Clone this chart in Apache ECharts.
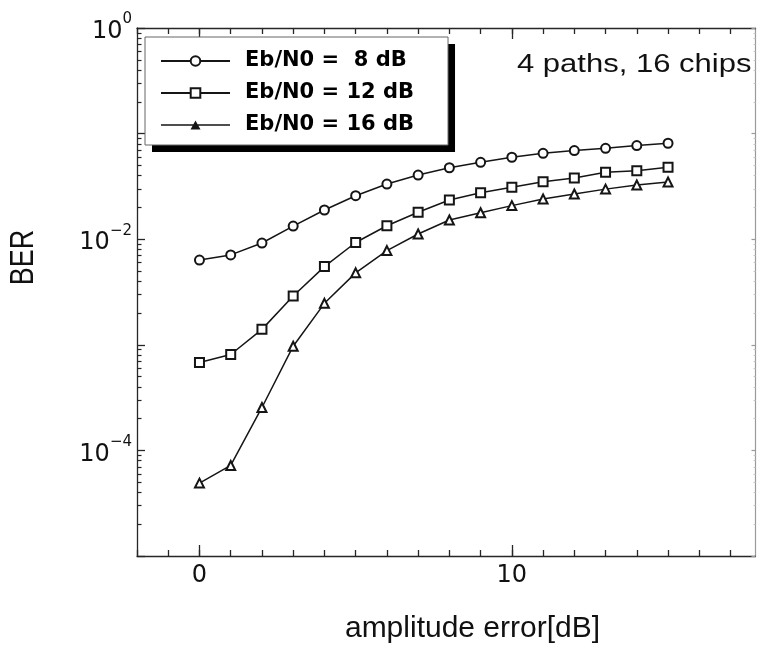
<!DOCTYPE html>
<html>
<head>
<meta charset="utf-8">
<script src="https://cdn.jsdelivr.net/npm/echarts@6/dist/echarts.min.js"></script>
<style>
  html, body { margin: 0; padding: 0; background: #fff; }
  #chart { width: 757px; height: 646px; }
</style>
</head>
<body>
<div id="chart"></div>
<script>
// Amplitude error (dB) at which BER was evaluated
const amplitudeError = [0, 1, 2, 3, 4, 5, 6, 7, 8, 9, 10, 11, 12, 13, 14, 15];

// Bit error rate for each Eb/N0
const ber8dB  = [6.35e-3, 7.1e-3, 9.2e-3, 1.33e-2, 1.89e-2, 2.58e-2, 3.33e-2, 4.05e-2,
                 4.75e-2, 5.35e-2, 5.97e-2, 6.5e-2, 6.9e-2, 7.25e-2, 7.7e-2, 8.1e-2];
const ber12dB = [6.8e-4, 8.1e-4, 1.4e-3, 2.9e-3, 5.5e-3, 9.3e-3, 1.34e-2, 1.8e-2,
                 2.35e-2, 2.75e-2, 3.1e-2, 3.5e-2, 3.8e-2, 4.3e-2, 4.45e-2, 4.8e-2];
const ber16dB = [4.9e-5, 7.2e-5, 2.55e-4, 9.7e-4, 2.47e-3, 4.8e-3, 7.8e-3, 1.12e-2,
                 1.52e-2, 1.78e-2, 2.08e-2, 2.4e-2, 2.68e-2, 2.98e-2, 3.26e-2, 3.48e-2];

const seriesNames = ['Eb/N0 =  8 dB', 'Eb/N0 = 12 dB', 'Eb/N0 = 16 dB'];
const seriesSymbols = ['emptyCircle', 'emptyRect', 'emptyTriangle'];
const seriesValues = [ber8dB, ber12dB, ber16dB];

// Axis ranges and labelled ticks
const xRange = [-2, 17.8];
const xLabelTicks = [0, 10];
const yExpRange = [-5, 0];
const yLabelExponents = [0, -2, -4];

// Tick positions: every dB on x, 2..9 within each decade on y (log10 space)
const xMinorTicks = [];
for (let v = Math.ceil(xRange[0]); v <= Math.floor(xRange[1]); v++) xMinorTicks.push(v);
const yMajorLog = [];
const yMinorLog = [];
for (let e = yExpRange[0]; e <= yExpRange[1]; e++) {
  yMajorLog.push(e);
  if (e < yExpRange[1]) for (let k = 2; k <= 9; k++) yMinorLog.push(e + Math.log10(k));
}

const AXIS_COLOR = '#262626';
const LINE_COLOR = '#151515';
const TICK_FONT = 'DejaVu Sans';

// Legend key for the 16 dB curve: a short line with a solid triangle on it
const TRIANGLE_KEY = 'path://M0,5.2H69V6.8H0Z M34.5,1.5L39.5,10.5H29.5Z';

function xTickAxis(position, ticks, length, showLine, showLabel) {
  return {
    type: 'value', position: position, min: xRange[0], max: xRange[1],
    axisLine: { show: showLine, onZero: false, lineStyle: { color: AXIS_COLOR, width: 1.3 } },
    axisTick: { show: true, inside: true, length: length, customValues: ticks,
                lineStyle: { color: AXIS_COLOR, width: 1.3 } },
    axisLabel: showLabel ? {
      show: true, customValues: xLabelTicks, margin: 8,
      color: '#111', fontSize: 24, fontFamily: TICK_FONT,
      formatter: v => String(v)
    } : { show: false },
    splitLine: { show: false }
  };
}

function yTickAxis(position, ticks, length, color, showLine) {
  return {
    type: 'value', position: position, min: yExpRange[0], max: yExpRange[1],
    axisLine: { show: showLine, onZero: false, lineStyle: { color: color, width: 1.2 } },
    axisTick: { show: true, inside: true, length: length, customValues: ticks,
                lineStyle: { color: color, width: 1.2 } },
    axisLabel: { show: false },
    splitLine: { show: false }
  };
}

// Shared legend geometry; one copy draws the shadowed panel, the other the framed keys
const legendBase = {
  orient: 'vertical',
  left: 145, top: 37,
  padding: [13, 34, 9, 15],
  itemWidth: 69, itemHeight: 12, itemGap: 10,
  selectedMode: false,
  textStyle: {
    color: '#000', fontSize: 21, fontWeight: 'bold', fontFamily: 'DejaVu Sans',
    lineHeight: 22, padding: [0, 0, 0, 10]
  }
};

const chart = echarts.init(document.getElementById('chart'), null, { renderer: 'canvas' });

chart.setOption({
  animation: false,
  backgroundColor: '#fff',
  grid: { left: 137, right: 1.5, top: 28, bottom: 90, containLabel: false },
  xAxis: [
    xTickAxis('bottom', xMinorTicks, 6, true, true),
    xTickAxis('bottom', xLabelTicks, 11, false, false),
    xTickAxis('top', xMinorTicks, 6, true, false),
    xTickAxis('top', xLabelTicks, 11, false, false)
  ],
  yAxis: [
    {
      type: 'log', logBase: 10, position: 'left',
      min: Math.pow(10, yExpRange[0]), max: Math.pow(10, yExpRange[1]),
      axisLine: { show: true, onZero: false, lineStyle: { color: AXIS_COLOR, width: 1.3 } },
      axisTick: { show: true, inside: true, length: 8, lineStyle: { color: AXIS_COLOR, width: 1.3 } },
      axisLabel: {
        show: true, margin: 5, color: '#111', fontFamily: TICK_FONT,
        formatter: v => {
          const e = Math.round(Math.log10(v));
          if (yLabelExponents.indexOf(e) < 0) return '';
          const exp = e < 0 ? '\u2212' + (-e) : String(e);
          return '{b|10}{s|' + exp + '}';
        },
        rich: {
          b: { fontSize: 24, fontFamily: TICK_FONT, color: '#111', lineHeight: 32, verticalAlign: 'bottom' },
          s: { fontSize: 15, fontFamily: TICK_FONT, color: '#111', lineHeight: 32, verticalAlign: 'top' }
        }
      },
      splitLine: { show: false }
    },
    yTickAxis('left', yMinorLog, 4.5, AXIS_COLOR, false),
    yTickAxis('right', yMajorLog, 4, '#9a9a9a', true),
    yTickAxis('right', yMinorLog, 2, '#c8c8c8', false)
  ],
  legend: [
    Object.assign({}, legendBase, {
      z: 3,
      backgroundColor: '#fff',
      borderWidth: 0,
      shadowColor: '#000', shadowBlur: 0, shadowOffsetX: 7, shadowOffsetY: 7,
      itemStyle: { opacity: 0 },
      lineStyle: { opacity: 0 },
      textStyle: Object.assign({}, legendBase.textStyle, { color: 'rgba(0,0,0,0)' }),
      data: seriesNames
    }),
    Object.assign({}, legendBase, {
      z: 4,
      backgroundColor: 'transparent',
      borderColor: '#666', borderWidth: 1,
      data: [
        seriesNames[0],
        seriesNames[1],
        { name: seriesNames[2], icon: TRIANGLE_KEY, itemStyle: { borderWidth: 0 } }
      ]
    })
  ],
  graphic: [
    {
      type: 'text', x: 517, y: 65, scaleX: 1.24,
      style: { text: '4 paths, 16 chips', font: '25px "Liberation Sans"', fill: '#111',
               textAlign: 'left', textVerticalAlign: 'middle', align: 'left', verticalAlign: 'middle' }
    },
    {
      type: 'text', x: 24.5, y: 257.5, rotation: Math.PI / 2, scaleY: 1.2,
      style: { text: 'BER', font: '27px "Liberation Sans"', fill: '#111',
               textAlign: 'center', textVerticalAlign: 'middle', align: 'center', verticalAlign: 'middle' }
    },
    {
      type: 'text', x: 472.5, y: 629,
      style: { text: 'amplitude error[dB]', font: '30px "Liberation Sans"', fill: '#111',
               textAlign: 'center', textVerticalAlign: 'middle', align: 'center', verticalAlign: 'middle' }
    }
  ],
  series: seriesNames.map((name, i) => ({
    name: name,
    type: 'line',
    xAxisIndex: 0,
    yAxisIndex: 0,
    data: amplitudeError.map((x, j) => [x, seriesValues[i][j]]),
    symbol: seriesSymbols[i],
    symbolSize: 9,
    showAllSymbol: true,
    lineStyle: { color: LINE_COLOR, width: 1.5 },
    itemStyle: { color: LINE_COLOR, borderColor: LINE_COLOR, borderWidth: 1.4 },
    emphasis: { disabled: true }
  }))
});
</script>
</body>
</html>
